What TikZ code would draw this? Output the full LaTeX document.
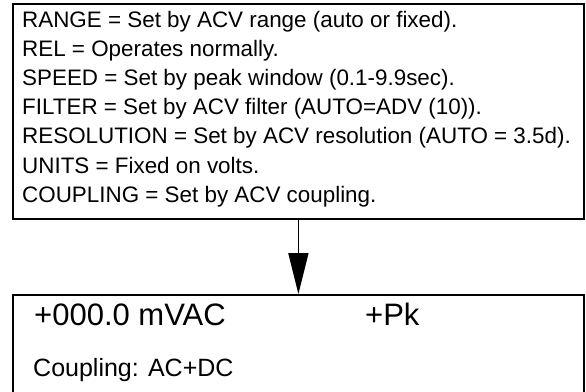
\documentclass[tikz,border=0pt]{standalone}
\usepackage{fontspec}
\setmainfont{Liberation Sans}
\usetikzlibrary{arrows.meta}
\tikzset{
  boxframe/.style={draw=black, line width=1.8pt, fill=white, inner sep=0pt},
  linetext/.style={anchor=base west, inner sep=0pt, font=\fontsize{22.4}{26}\selectfont},
  bigtext/.style={anchor=base west, inner sep=0pt, font=\fontsize{31}{35}\selectfont},
  midtext/.style={anchor=base west, inner sep=0pt, font=\fontsize{25}{29}\selectfont},
  flow/.style={line width=1.8pt, -{Triangle[width=20pt,length=41pt]}}
}
\begin{document}
\begin{tikzpicture}[x=1pt,y=-1pt]
\useasboundingbox (0,0) rectangle (586,391);
\clip (0,0) rectangle (586,391);
\node[boxframe, minimum width=571pt, minimum height=215pt, anchor=north west] (top) at (12,3) {};
\node[linetext] (l1) at (22,27) {RANGE = Set by ACV range (auto or fixed).};
\node[linetext] (l2) at (22,56.2) {REL = Operates normally.};
\node[linetext] (l3) at (22,85.4) {SPEED = Set by peak window (0.1-9.9sec).};
\node[linetext] (l4) at (22,114.6) {FILTER = Set by ACV filter (AUTO=ADV (10)).};
\node[linetext] (l5) at (22,143.8) {RESOLUTION = Set by ACV resolution (AUTO = 3.5d).};
\node[linetext] (l6) at (22,173) {UNITS = Fixed on volts.};
\node[linetext] (l7) at (22,202.2) {COUPLING = Set by ACV coupling.};
\node[boxframe, minimum width=571pt, minimum height=130pt, anchor=north west] (bot) at (12,294) {};
\node[bigtext] (reading) at (34,325) {+000.0 mVAC};
\node[bigtext] (pk) at (365,325) {+Pk};
\node[midtext] (coupling) at (33,376) {Coupling: AC+DC};
\draw[flow] (top.south) -- (bot.north);
\end{tikzpicture}
\end{document}
